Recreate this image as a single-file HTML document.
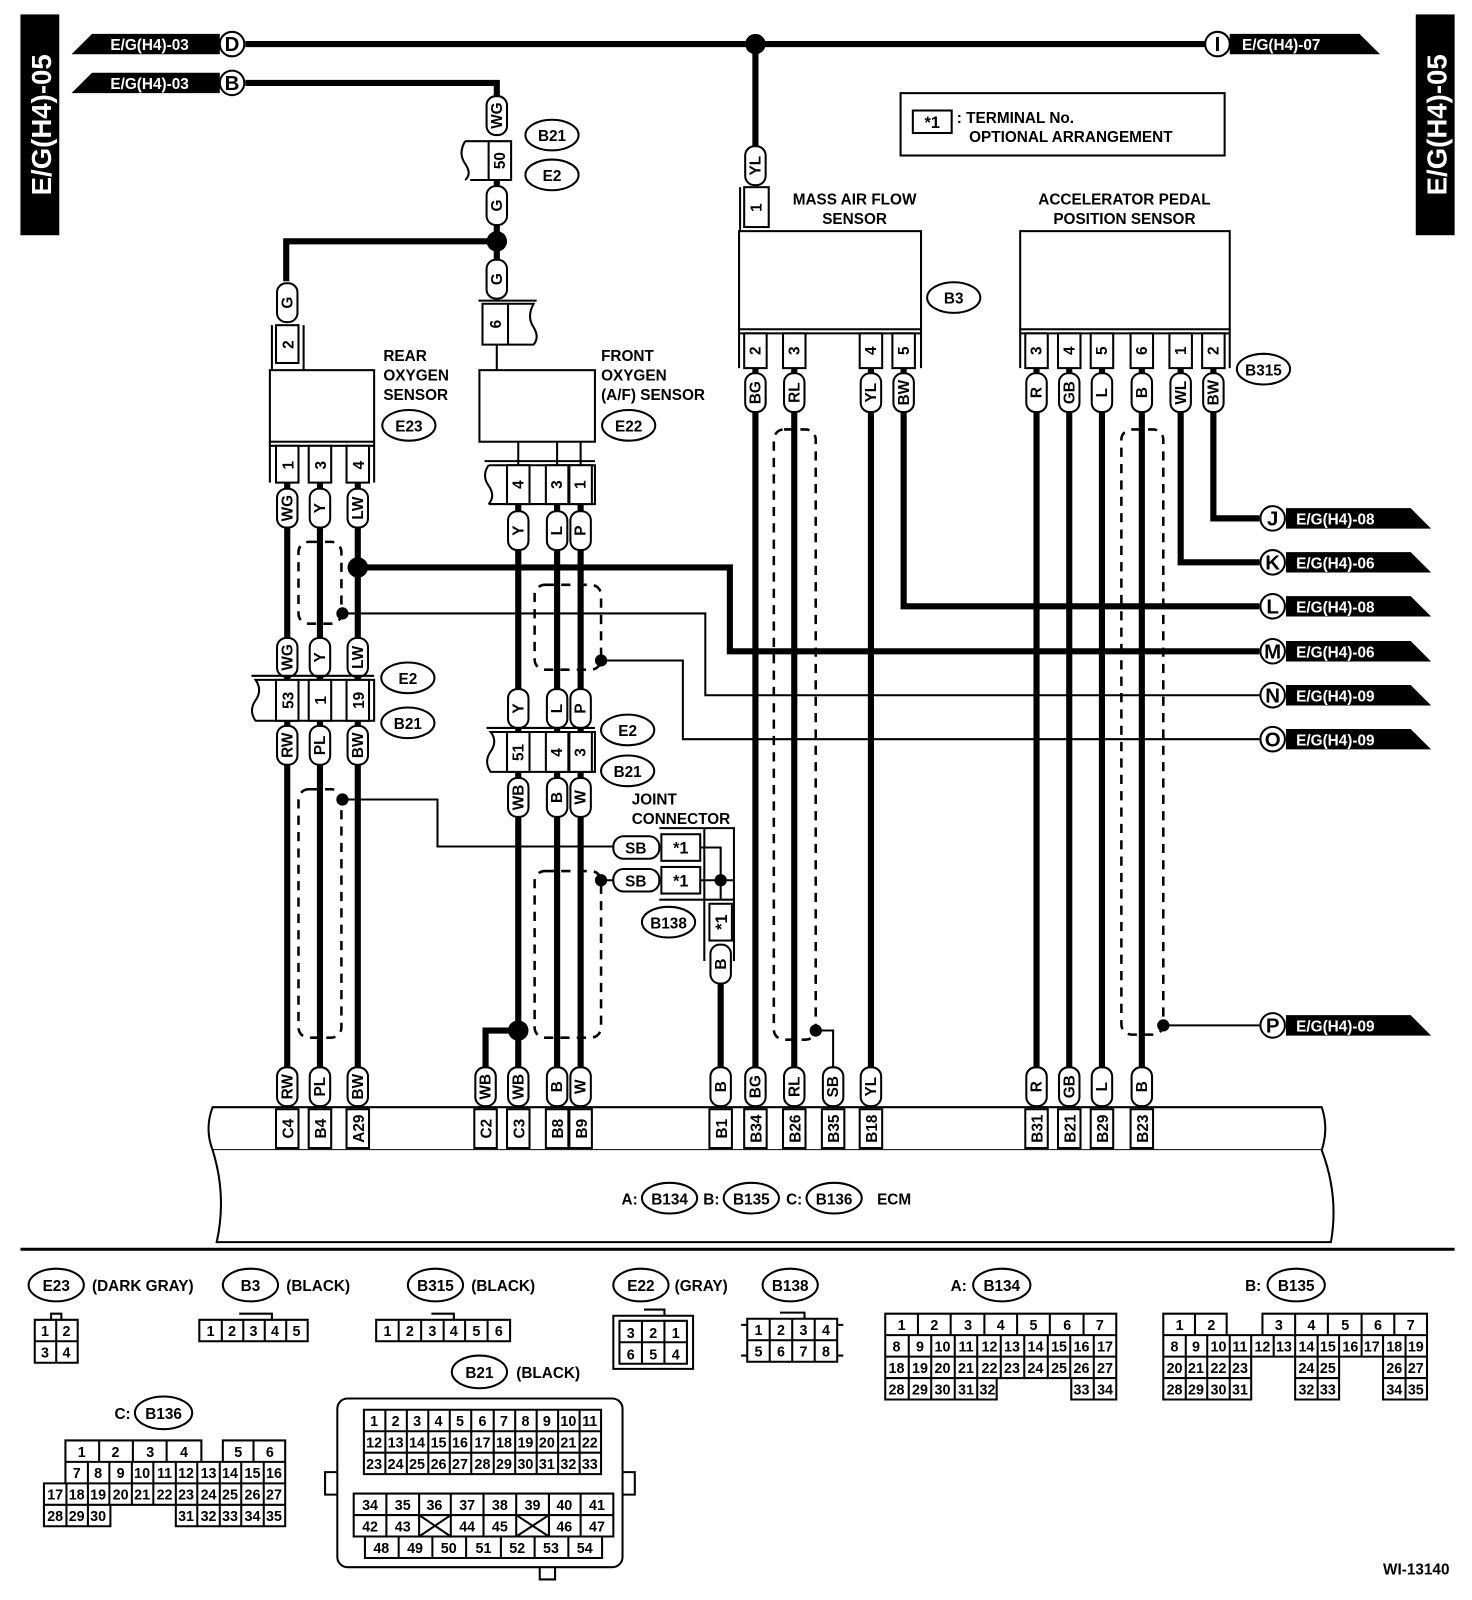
<!DOCTYPE html>
<html><head><meta charset="utf-8"><style>
html,body{margin:0;padding:0;background:#fff}
svg{display:block}
text{font-family:"Liberation Sans",sans-serif;font-weight:bold;fill:#000}
.s{font-size:15px}.m{font-size:16px}.n{font-size:14px;font-weight:normal}
.w{fill:#fff}
.pl{fill:#fff;stroke:#000;stroke-width:2}
.bx{fill:#fff;stroke:#000;stroke-width:2}
.t{stroke:#000;stroke-width:6;fill:none}
.f{stroke:#000;stroke-width:2;fill:none}
.d{stroke:#000;stroke-width:2.5;fill:none;stroke-dasharray:9 7}
</style></head><body>
<svg width="1472" height="1600" viewBox="0 0 1440 1565" xmlns="http://www.w3.org/2000/svg">
<defs>
<g id="pill"><rect x="-10" y="-19" width="20" height="38" rx="9" class="pl"/></g>
</defs>
<!-- side labels -->
<rect x="20" y="14" width="38" height="216" fill="#000"/>
<text class="w" style="font-size:27px" transform="translate(50,122) rotate(-90)" text-anchor="middle">E/G(H4)-05</text>
<rect x="1385" y="14" width="38" height="216" fill="#000"/>
<text class="w" style="font-size:27px" transform="translate(1415,122) rotate(-90)" text-anchor="middle">E/G(H4)-05</text>

<!-- top wires -->
<path class="t" d="M240,43 H1180 M240,81 H486 V95 M739,43 V145"/>
<circle cx="739" cy="43" r="10"/>
<polygon points="70,53 90,33 215,33 215,53" fill="#000"/>
<text class="w s" x="108" y="49">E/G(H4)-03</text>
<polygon points="70,91 90,71 215,71 215,91" fill="#000"/>
<text class="w s" x="108" y="87">E/G(H4)-03</text>
<circle cx="227" cy="43" r="12" class="bx" stroke-width="3"/><text x="227" y="50" text-anchor="middle" style="font-size:20px">D</text>
<circle cx="227" cy="81" r="12" class="bx" stroke-width="3"/><text x="227" y="88" text-anchor="middle" style="font-size:20px">B</text>
<polygon points="1203,33 1330,33 1350,53 1203,53" fill="#000"/>
<text class="w s" x="1215" y="49">E/G(H4)-07</text>
<circle cx="1191" cy="43" r="12" class="bx" stroke-width="3"/><text x="1191" y="50" text-anchor="middle" style="font-size:20px">I</text>

<!-- legend -->
<rect x="881" y="91" width="317" height="61" class="bx"/>
<rect x="893" y="108" width="38" height="22" class="bx"/>
<text class="m" x="912" y="125" text-anchor="middle">*1</text>
<text class="s" x="936" y="120">: TERMINAL No.</text>
<text class="s" x="948" y="139">OPTIONAL ARRANGEMENT</text>

<!-- B21/E2 top connector -->
<use href="#pill" x="486" y="113"/><text class="s" transform="translate(491,113) rotate(-90)" text-anchor="middle">WG</text>
<path class="f" d="M455,138 H500 V176 H460 M478,138 V176"/>
<path class="f" d="M455,138 Q448,150 455,160 Q462,170 455,176"/>
<text class="s" transform="translate(494,157) rotate(-90)" text-anchor="middle">50</text>
<ellipse cx="540" cy="132" rx="26" ry="15" class="bx"/><text class="s" x="540" y="138" text-anchor="middle">B21</text>
<ellipse cx="540" cy="171" rx="26" ry="15" class="bx"/><text class="s" x="540" y="177" text-anchor="middle">E2</text>
<path class="t" d="M486,176 V275 M486,236 H280 V275"/>
<use href="#pill" x="486" y="201"/><text class="s" transform="translate(491,201) rotate(-90)" text-anchor="middle">G</text>
<circle cx="486" cy="236" r="10"/>
<use href="#pill" x="486" y="273"/><text class="s" transform="translate(491,273) rotate(-90)" text-anchor="middle">G</text>
<use href="#pill" x="281" y="296"/><text class="s" transform="translate(286,296) rotate(-90)" text-anchor="middle">G</text>
<!-- rear conn 2 -->
<rect x="270" y="318" width="22" height="37" class="bx"/><path class="f" d="M266,318 V362 M297,318 V362"/>
<text class="s" transform="translate(287,337) rotate(-90)" text-anchor="middle">2</text>
<!-- front conn 6 -->
<path class="f" d="M472,297 H522 Q515,310 522,320 Q528,330 522,337 H472 Z M497,297 V337"/>
<path class="f" d="M468,294 H525"/>
<text class="s" transform="translate(490,317) rotate(-90)" text-anchor="middle">6</text>
<path class="f" d="M486,337 V362"/>
<!-- sensor boxes -->
<rect x="264" y="362" width="102" height="70" class="bx"/>
<rect x="469" y="362" width="113" height="70" class="bx"/>
<text class="s" x="375" y="353">REAR</text><text class="s" x="375" y="372">OXYGEN</text><text class="s" x="375" y="391">SENSOR</text>
<ellipse cx="400" cy="416" rx="26" ry="15" class="bx"/><text class="s" x="400" y="422" text-anchor="middle">E23</text>
<text class="s" x="588" y="353">FRONT</text><text class="s" x="588" y="372">OXYGEN</text><text class="s" x="588" y="391">(A/F) SENSOR</text>
<ellipse cx="615" cy="416" rx="26" ry="15" class="bx"/><text class="s" x="615" y="422" text-anchor="middle">E22</text>
<!-- rear pins -->
<path class="f" d="M264,432 V472 M366,432 V472 M264,436 H366"/>
<rect x="270" y="436" width="22" height="36" class="bx"/><rect x="302" y="436" width="22" height="36" class="bx"/><rect x="339" y="436" width="22" height="36" class="bx"/>
<text class="s" transform="translate(287,455) rotate(-90)" text-anchor="middle">1</text>
<text class="s" transform="translate(319,455) rotate(-90)" text-anchor="middle">3</text>
<text class="s" transform="translate(356,455) rotate(-90)" text-anchor="middle">4</text>
<!-- front pins -->
<path class="f" d="M507,432 V455 M545,432 V455 M568,432 V455"/>
<path class="f" d="M478,455 H582 V493 H478 M478,455 Q471,465 478,475 Q485,485 478,493 M474,451 H582"/>
<rect x="496" y="455" width="22" height="38" class="bx"/><rect x="534" y="455" width="22" height="38" class="bx"/><rect x="557" y="455" width="22" height="38" class="bx"/>
<text class="s" transform="translate(512,474) rotate(-90)" text-anchor="middle">4</text>
<text class="s" transform="translate(550,474) rotate(-90)" text-anchor="middle">3</text>
<text class="s" transform="translate(573,474) rotate(-90)" text-anchor="middle">1</text>

<!-- MAF -->
<use href="#pill" x="739" y="162"/><text class="s" transform="translate(744,162) rotate(-90)" text-anchor="middle">YL</text>
<rect x="728" y="183" width="24" height="39" class="bx"/><path class="f" d="M724,183 V226"/>
<text class="s" transform="translate(745,203) rotate(-90)" text-anchor="middle">1</text>
<rect x="723" y="226" width="178" height="96" class="bx"/>
<text class="s" x="836" y="200" text-anchor="middle">MASS AIR FLOW</text><text class="s" x="836" y="219" text-anchor="middle">SENSOR</text>
<ellipse cx="933" cy="291" rx="26" ry="15" class="bx"/><text class="s" x="933" y="297" text-anchor="middle">B3</text>
<path class="f" d="M723,322 V360 M901,322 V360 M723,326 H901"/>
<rect x="728" y="326" width="22" height="34" class="bx"/><rect x="766" y="326" width="22" height="34" class="bx"/><rect x="841" y="326" width="22" height="34" class="bx"/><rect x="873" y="326" width="22" height="34" class="bx"/>
<text class="s" transform="translate(744,343) rotate(-90)" text-anchor="middle">2</text>
<text class="s" transform="translate(782,343) rotate(-90)" text-anchor="middle">3</text>
<text class="s" transform="translate(857,343) rotate(-90)" text-anchor="middle">4</text>
<text class="s" transform="translate(889,343) rotate(-90)" text-anchor="middle">5</text>
<!-- APP -->
<rect x="998" y="226" width="205" height="96" class="bx"/>
<text class="s" x="1100" y="200" text-anchor="middle">ACCELERATOR PEDAL</text><text class="s" x="1100" y="219" text-anchor="middle">POSITION SENSOR</text>
<ellipse cx="1236" cy="361" rx="26" ry="15" class="bx"/><text class="s" x="1236" y="367" text-anchor="middle">B315</text>
<path class="f" d="M998,322 V360 M1203,322 V360 M998,326 H1203"/>
<rect x="1003" y="326" width="22" height="34" class="bx"/><rect x="1035" y="326" width="22" height="34" class="bx"/><rect x="1067" y="326" width="22" height="34" class="bx"/><rect x="1106" y="326" width="22" height="34" class="bx"/><rect x="1144" y="326" width="22" height="34" class="bx"/><rect x="1176" y="326" width="22" height="34" class="bx"/>
<text class="s" transform="translate(1019,343) rotate(-90)" text-anchor="middle">3</text>
<text class="s" transform="translate(1051,343) rotate(-90)" text-anchor="middle">4</text>
<text class="s" transform="translate(1083,343) rotate(-90)" text-anchor="middle">5</text>
<text class="s" transform="translate(1122,343) rotate(-90)" text-anchor="middle">6</text>
<text class="s" transform="translate(1160,343) rotate(-90)" text-anchor="middle">1</text>
<text class="s" transform="translate(1192,343) rotate(-90)" text-anchor="middle">2</text>

<!-- vertical wires -->
<path class="t" d="M281,472 V1045 M313,472 V1045 M350,472 V1045 M507,493 V1045 M545,493 V1045 M568,493 V1045 M739,360 V1045 M777,360 V1045 M852,360 V1045 M1014,360 V1045 M1046,360 V1045 M1078,360 V1045 M1117,360 V1045 M507,1008 H475 V1045 M705,940 V1045"/>
<path class="t" d="M1187,360 V507 H1232 M1155,360 V550 H1232 M884,360 V593 H1232 M350,555 H714 V637 H1232"/>
<path class="f" d="M335,600 H690 V680 H1232 M588,646 H668 V723 H1232 M1138,1003 H1232 M798,1008 H815 V1045 M335,782 H428 V828 H600 M588,861 H600"/>
<circle cx="350" cy="555" r="10"/><circle cx="507" cy="1008" r="10"/>
<circle cx="335" cy="600" r="6"/><circle cx="588" cy="646" r="6"/><circle cx="335" cy="782" r="6"/><circle cx="588" cy="861" r="6"/><circle cx="798" cy="1008" r="6"/><circle cx="1138" cy="1003" r="6"/>
<!-- shields -->
<rect x="292" y="530" width="42" height="80" rx="10" class="d"/>
<rect x="292" y="772" width="42" height="243" rx="10" class="d"/>
<rect x="523" y="572" width="65" height="83" rx="10" class="d"/>
<rect x="523" y="852" width="65" height="163" rx="10" class="d"/>
<rect x="757" y="420" width="41" height="597" rx="10" class="d"/>
<rect x="1097" y="420" width="41" height="592" rx="10" class="d"/>

<!-- pills upper -->
<use href="#pill" x="281" y="497"/><text class="s" transform="translate(286,497) rotate(-90)" text-anchor="middle">WG</text>
<use href="#pill" x="313" y="497"/><text class="s" transform="translate(318,497) rotate(-90)" text-anchor="middle">Y</text>
<use href="#pill" x="350" y="497"/><text class="s" transform="translate(355,497) rotate(-90)" text-anchor="middle">LW</text>
<use href="#pill" x="507" y="519"/><text class="s" transform="translate(512,519) rotate(-90)" text-anchor="middle">Y</text>
<use href="#pill" x="545" y="519"/><text class="s" transform="translate(550,519) rotate(-90)" text-anchor="middle">L</text>
<use href="#pill" x="568" y="519"/><text class="s" transform="translate(573,519) rotate(-90)" text-anchor="middle">P</text>
<use href="#pill" x="739" y="384"/><text class="s" transform="translate(744,384) rotate(-90)" text-anchor="middle">BG</text>
<use href="#pill" x="777" y="384"/><text class="s" transform="translate(782,384) rotate(-90)" text-anchor="middle">RL</text>
<use href="#pill" x="852" y="384"/><text class="s" transform="translate(857,384) rotate(-90)" text-anchor="middle">YL</text>
<use href="#pill" x="884" y="384"/><text class="s" transform="translate(889,384) rotate(-90)" text-anchor="middle">BW</text>
<use href="#pill" x="1014" y="384"/><text class="s" transform="translate(1019,384) rotate(-90)" text-anchor="middle">R</text>
<use href="#pill" x="1046" y="384"/><text class="s" transform="translate(1051,384) rotate(-90)" text-anchor="middle">GB</text>
<use href="#pill" x="1078" y="384"/><text class="s" transform="translate(1083,384) rotate(-90)" text-anchor="middle">L</text>
<use href="#pill" x="1117" y="384"/><text class="s" transform="translate(1122,384) rotate(-90)" text-anchor="middle">B</text>
<use href="#pill" x="1155" y="384"/><text class="s" transform="translate(1160,384) rotate(-90)" text-anchor="middle">WL</text>
<use href="#pill" x="1187" y="384"/><text class="s" transform="translate(1192,384) rotate(-90)" text-anchor="middle">BW</text>

<!-- rear E2/B21 connector -->
<use href="#pill" x="281" y="643"/><text class="s" transform="translate(286,643) rotate(-90)" text-anchor="middle">WG</text>
<use href="#pill" x="313" y="643"/><text class="s" transform="translate(318,643) rotate(-90)" text-anchor="middle">Y</text>
<use href="#pill" x="350" y="643"/><text class="s" transform="translate(355,643) rotate(-90)" text-anchor="middle">LW</text>
<path class="bx" d="M250,665 H366 V705 H250 Q243,695 250,685 Q257,675 250,665 Z"/>
<path class="f" d="M246,661 H366"/>
<rect x="270" y="665" width="22" height="40" class="bx"/><rect x="302" y="665" width="22" height="40" class="bx"/><rect x="339" y="665" width="22" height="40" class="bx"/>
<text class="s" transform="translate(287,685) rotate(-90)" text-anchor="middle">53</text>
<text class="s" transform="translate(319,685) rotate(-90)" text-anchor="middle">1</text>
<text class="s" transform="translate(356,685) rotate(-90)" text-anchor="middle">19</text>
<ellipse cx="399" cy="663" rx="26" ry="15" class="bx"/><text class="s" x="399" y="669" text-anchor="middle">E2</text>
<ellipse cx="399" cy="707" rx="26" ry="15" class="bx"/><text class="s" x="399" y="713" text-anchor="middle">B21</text>
<use href="#pill" x="281" y="729"/><text class="s" transform="translate(286,729) rotate(-90)" text-anchor="middle">RW</text>
<use href="#pill" x="313" y="729"/><text class="s" transform="translate(318,729) rotate(-90)" text-anchor="middle">PL</text>
<use href="#pill" x="350" y="729"/><text class="s" transform="translate(355,729) rotate(-90)" text-anchor="middle">BW</text>
<!-- front E2/B21 connector -->
<use href="#pill" x="507" y="693"/><text class="s" transform="translate(512,693) rotate(-90)" text-anchor="middle">Y</text>
<use href="#pill" x="545" y="693"/><text class="s" transform="translate(550,693) rotate(-90)" text-anchor="middle">L</text>
<use href="#pill" x="568" y="693"/><text class="s" transform="translate(573,693) rotate(-90)" text-anchor="middle">P</text>
<path class="bx" d="M480,716 H582 V755 H480 Q473,745 480,735 Q487,725 480,716 Z"/>
<path class="f" d="M476,712 H582"/>
<rect x="496" y="716" width="22" height="39" class="bx"/><rect x="534" y="716" width="22" height="39" class="bx"/><rect x="557" y="716" width="22" height="39" class="bx"/>
<text class="s" transform="translate(512,736) rotate(-90)" text-anchor="middle">51</text>
<text class="s" transform="translate(550,736) rotate(-90)" text-anchor="middle">4</text>
<text class="s" transform="translate(573,736) rotate(-90)" text-anchor="middle">3</text>
<ellipse cx="614" cy="714" rx="26" ry="15" class="bx"/><text class="s" x="614" y="720" text-anchor="middle">E2</text>
<ellipse cx="614" cy="754" rx="26" ry="15" class="bx"/><text class="s" x="614" y="760" text-anchor="middle">B21</text>
<use href="#pill" x="507" y="780"/><text class="s" transform="translate(512,780) rotate(-90)" text-anchor="middle">WB</text>
<use href="#pill" x="545" y="780"/><text class="s" transform="translate(550,780) rotate(-90)" text-anchor="middle">B</text>
<use href="#pill" x="568" y="780"/><text class="s" transform="translate(573,780) rotate(-90)" text-anchor="middle">W</text>

<!-- joint connector -->
<text class="s" x="618" y="787">JOINT</text><text class="s" x="618" y="806">CONNECTOR</text>
<rect x="600" y="818" width="45" height="22" rx="10" class="pl"/><text class="s" x="622" y="835" text-anchor="middle">SB</text>
<rect x="600" y="850" width="45" height="22" rx="10" class="pl"/><text class="s" x="622" y="867" text-anchor="middle">SB</text>
<rect x="647" y="816" width="38" height="26" class="bx"/><text class="m" x="666" y="835" text-anchor="middle">*1</text>
<rect x="647" y="848" width="38" height="26" class="bx"/><text class="m" x="666" y="867" text-anchor="middle">*1</text>
<path class="f" d="M645,810 H718 V940 M645,880 H718 M689,810 V940 M685,829 H705 V880 M685,861 H718"/>
<circle cx="705" cy="861" r="6"/>
<rect x="694" y="884" width="22" height="36" class="bx"/>
<text class="m" transform="translate(711,902) rotate(-90)" text-anchor="middle">*1</text>
<ellipse cx="654" cy="902" rx="26" ry="15" class="bx"/><text class="s" x="654" y="908" text-anchor="middle">B138</text>
<use href="#pill" x="705" y="943"/><text class="s" transform="translate(710,943) rotate(-90)" text-anchor="middle">B</text>

<!-- right tags -->
<g class="s">
<polygon points="1258,497 1380,497 1400,517 1258,517" fill="#000"/><text class="w" x="1268" y="513">E/G(H4)-08</text>
<circle cx="1245" cy="507" r="12" class="bx" stroke-width="3"/><text x="1245" y="514" text-anchor="middle" style="font-size:20px">J</text>
<polygon points="1258,540 1380,540 1400,560 1258,560" fill="#000"/><text class="w" x="1268" y="556">E/G(H4)-06</text>
<circle cx="1245" cy="550" r="12" class="bx" stroke-width="3"/><text x="1245" y="557" text-anchor="middle" style="font-size:20px">K</text>
<polygon points="1258,583 1380,583 1400,603 1258,603" fill="#000"/><text class="w" x="1268" y="599">E/G(H4)-08</text>
<circle cx="1245" cy="593" r="12" class="bx" stroke-width="3"/><text x="1245" y="600" text-anchor="middle" style="font-size:20px">L</text>
<polygon points="1258,627 1380,627 1400,647 1258,647" fill="#000"/><text class="w" x="1268" y="643">E/G(H4)-06</text>
<circle cx="1245" cy="637" r="12" class="bx" stroke-width="3"/><text x="1245" y="644" text-anchor="middle" style="font-size:20px">M</text>
<polygon points="1258,670 1380,670 1400,690 1258,690" fill="#000"/><text class="w" x="1268" y="686">E/G(H4)-09</text>
<circle cx="1245" cy="680" r="12" class="bx" stroke-width="3"/><text x="1245" y="687" text-anchor="middle" style="font-size:20px">N</text>
<polygon points="1258,713 1380,713 1400,733 1258,733" fill="#000"/><text class="w" x="1268" y="729">E/G(H4)-09</text>
<circle cx="1245" cy="723" r="12" class="bx" stroke-width="3"/><text x="1245" y="730" text-anchor="middle" style="font-size:20px">O</text>
<polygon points="1258,993 1380,993 1400,1013 1258,1013" fill="#000"/><text class="w" x="1268" y="1009">E/G(H4)-09</text>
<circle cx="1245" cy="1003" r="12" class="bx" stroke-width="3"/><text x="1245" y="1010" text-anchor="middle" style="font-size:20px">P</text>
</g>

<!-- ECM -->
<path class="bx" d="M208,1083 H1293 Q1300,1104 1293,1125 H208 Q200,1104 208,1083 Z"/>
<path class="bx" d="M208,1125 Q222,1170 212,1215 H1302 Q1310,1170 1293,1125"/>
<text class="s" x="608" y="1178">A:</text>
<ellipse cx="655" cy="1172" rx="27" ry="15" class="bx"/><text class="s" x="655" y="1178" text-anchor="middle">B134</text>
<text class="s" x="688" y="1178">B:</text>
<ellipse cx="735" cy="1172" rx="27" ry="15" class="bx"/><text class="s" x="735" y="1178" text-anchor="middle">B135</text>
<text class="s" x="769" y="1178">C:</text>
<ellipse cx="816" cy="1172" rx="27" ry="15" class="bx"/><text class="s" x="816" y="1178" text-anchor="middle">B136</text>
<text class="s" x="858" y="1178">ECM</text>
<g>
<rect x="270" y="1085" width="22" height="38" class="bx"/><text class="s" transform="translate(287,1104) rotate(-90)" text-anchor="middle">C4</text>
<rect x="302" y="1085" width="22" height="38" class="bx"/><text class="s" transform="translate(319,1104) rotate(-90)" text-anchor="middle">B4</text>
<rect x="339" y="1085" width="22" height="38" class="bx"/><text class="s" transform="translate(356,1104) rotate(-90)" text-anchor="middle">A29</text>
<rect x="464" y="1085" width="22" height="38" class="bx"/><text class="s" transform="translate(481,1104) rotate(-90)" text-anchor="middle">C2</text>
<rect x="496" y="1085" width="22" height="38" class="bx"/><text class="s" transform="translate(513,1104) rotate(-90)" text-anchor="middle">C3</text>
<rect x="534" y="1085" width="22" height="38" class="bx"/><text class="s" transform="translate(551,1104) rotate(-90)" text-anchor="middle">B8</text>
<rect x="557" y="1085" width="22" height="38" class="bx"/><text class="s" transform="translate(574,1104) rotate(-90)" text-anchor="middle">B9</text>
<rect x="694" y="1085" width="22" height="38" class="bx"/><text class="s" transform="translate(711,1104) rotate(-90)" text-anchor="middle">B1</text>
<rect x="728" y="1085" width="22" height="38" class="bx"/><text class="s" transform="translate(745,1104) rotate(-90)" text-anchor="middle">B34</text>
<rect x="766" y="1085" width="22" height="38" class="bx"/><text class="s" transform="translate(783,1104) rotate(-90)" text-anchor="middle">B26</text>
<rect x="804" y="1085" width="22" height="38" class="bx"/><text class="s" transform="translate(821,1104) rotate(-90)" text-anchor="middle">B35</text>
<rect x="841" y="1085" width="22" height="38" class="bx"/><text class="s" transform="translate(858,1104) rotate(-90)" text-anchor="middle">B18</text>
<rect x="1003" y="1085" width="22" height="38" class="bx"/><text class="s" transform="translate(1020,1104) rotate(-90)" text-anchor="middle">B31</text>
<rect x="1035" y="1085" width="22" height="38" class="bx"/><text class="s" transform="translate(1052,1104) rotate(-90)" text-anchor="middle">B21</text>
<rect x="1067" y="1085" width="22" height="38" class="bx"/><text class="s" transform="translate(1084,1104) rotate(-90)" text-anchor="middle">B29</text>
<rect x="1106" y="1085" width="22" height="38" class="bx"/><text class="s" transform="translate(1123,1104) rotate(-90)" text-anchor="middle">B23</text>
</g>
<!-- ECM pills -->
<use href="#pill" x="281" y="1063"/><text class="s" transform="translate(286,1063) rotate(-90)" text-anchor="middle">RW</text>
<use href="#pill" x="313" y="1063"/><text class="s" transform="translate(318,1063) rotate(-90)" text-anchor="middle">PL</text>
<use href="#pill" x="350" y="1063"/><text class="s" transform="translate(355,1063) rotate(-90)" text-anchor="middle">BW</text>
<use href="#pill" x="475" y="1063"/><text class="s" transform="translate(480,1063) rotate(-90)" text-anchor="middle">WB</text>
<use href="#pill" x="507" y="1063"/><text class="s" transform="translate(512,1063) rotate(-90)" text-anchor="middle">WB</text>
<use href="#pill" x="545" y="1063"/><text class="s" transform="translate(550,1063) rotate(-90)" text-anchor="middle">B</text>
<use href="#pill" x="568" y="1063"/><text class="s" transform="translate(573,1063) rotate(-90)" text-anchor="middle">W</text>
<use href="#pill" x="705" y="1063"/><text class="s" transform="translate(710,1063) rotate(-90)" text-anchor="middle">B</text>
<use href="#pill" x="739" y="1063"/><text class="s" transform="translate(744,1063) rotate(-90)" text-anchor="middle">BG</text>
<use href="#pill" x="777" y="1063"/><text class="s" transform="translate(782,1063) rotate(-90)" text-anchor="middle">RL</text>
<use href="#pill" x="815" y="1063"/><text class="s" transform="translate(820,1063) rotate(-90)" text-anchor="middle">SB</text>
<use href="#pill" x="852" y="1063"/><text class="s" transform="translate(857,1063) rotate(-90)" text-anchor="middle">YL</text>
<use href="#pill" x="1014" y="1063"/><text class="s" transform="translate(1019,1063) rotate(-90)" text-anchor="middle">R</text>
<use href="#pill" x="1046" y="1063"/><text class="s" transform="translate(1051,1063) rotate(-90)" text-anchor="middle">GB</text>
<use href="#pill" x="1078" y="1063"/><text class="s" transform="translate(1083,1063) rotate(-90)" text-anchor="middle">L</text>
<use href="#pill" x="1117" y="1063"/><text class="s" transform="translate(1122,1063) rotate(-90)" text-anchor="middle">B</text>

<!-- separator -->
<path d="M20,1222 H1423" stroke="#000" stroke-width="3"/>

<!-- bottom connectors -->
<ellipse cx="55" cy="1257" rx="27" ry="16" class="bx"/><text class="s" x="55" y="1263" text-anchor="middle">E23</text>
<text class="s" x="90" y="1263">(DARK GRAY)</text>
<path class="f" d="M34,1291 H76 V1333 H34 Z M55,1291 V1333 M34,1312 H76 M50,1285 H60 V1291 H50 Z"/>
<g class="n"><text x="44" y="1307" text-anchor="middle">1</text><text x="65" y="1307" text-anchor="middle">2</text><text x="44" y="1328" text-anchor="middle">3</text><text x="65" y="1328" text-anchor="middle">4</text></g>

<ellipse cx="245" cy="1257" rx="27" ry="16" class="bx"/><text class="s" x="245" y="1263" text-anchor="middle">B3</text>
<text class="s" x="280" y="1263">(BLACK)</text>
<path class="f" d="M195,1291 H301 V1312 H195 Z M217,1291 V1312 M238,1291 V1312 M259,1291 V1312 M280,1291 V1312 M234,1285 H266 V1291"/>
<g class="n"><text x="206" y="1307" text-anchor="middle">1</text><text x="227" y="1307" text-anchor="middle">2</text><text x="248" y="1307" text-anchor="middle">3</text><text x="269" y="1307" text-anchor="middle">4</text><text x="290" y="1307" text-anchor="middle">5</text></g>

<ellipse cx="426" cy="1257" rx="27" ry="16" class="bx"/><text class="s" x="426" y="1263" text-anchor="middle">B315</text>
<text class="s" x="461" y="1263">(BLACK)</text>
<path class="f" d="M368,1291 H499 V1312 H368 Z M390,1291 V1312 M412,1291 V1312 M434,1291 V1312 M455,1291 V1312 M477,1291 V1312 M422,1285 H444 V1291"/>
<g class="n"><text x="379" y="1307" text-anchor="middle">1</text><text x="401" y="1307" text-anchor="middle">2</text><text x="423" y="1307" text-anchor="middle">3</text><text x="444" y="1307" text-anchor="middle">4</text><text x="466" y="1307" text-anchor="middle">5</text><text x="488" y="1307" text-anchor="middle">6</text></g>

<ellipse cx="627" cy="1257" rx="27" ry="16" class="bx"/><text class="s" x="627" y="1263" text-anchor="middle">E22</text>
<text class="s" x="660" y="1263">(GRAY)</text>
<path class="f" d="M600,1287 H678 V1339 H600 Z M606,1292 H672 V1334 H606 Z M628,1292 V1334 M650,1292 V1334 M606,1313 H672 M630,1281 H650 V1287"/>
<g class="n"><text x="617" y="1309" text-anchor="middle">3</text><text x="639" y="1309" text-anchor="middle">2</text><text x="661" y="1309" text-anchor="middle">1</text><text x="617" y="1330" text-anchor="middle">6</text><text x="639" y="1330" text-anchor="middle">5</text><text x="661" y="1330" text-anchor="middle">4</text></g>

<ellipse cx="773" cy="1257" rx="27" ry="16" class="bx"/><text class="s" x="773" y="1263" text-anchor="middle">B138</text>
<path class="f" d="M731,1290 H819 V1332 H731 Z M753,1290 V1332 M775,1290 V1332 M797,1290 V1332 M731,1311 H819 M763,1284 H787 V1290 M725,1296 H731 M725,1326 H731 M819,1296 H825 M819,1326 H825"/>
<g class="n"><text x="742" y="1306" text-anchor="middle">1</text><text x="764" y="1306" text-anchor="middle">2</text><text x="786" y="1306" text-anchor="middle">3</text><text x="808" y="1306" text-anchor="middle">4</text><text x="742" y="1327" text-anchor="middle">5</text><text x="764" y="1327" text-anchor="middle">6</text><text x="786" y="1327" text-anchor="middle">7</text><text x="808" y="1327" text-anchor="middle">8</text></g>

<!-- B134 -->
<text class="s" x="930" y="1263">A:</text>
<ellipse cx="980" cy="1257" rx="28" ry="16" class="bx"/><text class="s" x="980" y="1263" text-anchor="middle">B134</text>
<path class="f" d="M866,1285 H1092 V1369 H1048 V1348 H975 V1369 H866 Z M866,1306 H1092 M866,1327 H1092 M866,1348 H975 M1048,1348 H1092 M898,1285 V1306 M930,1285 V1306 M963,1285 V1306 M995,1285 V1306 M1027,1285 V1306 M1060,1285 V1306 M889,1306 V1369 M911,1306 V1369 M934,1306 V1369 M956,1306 V1369 M979,1306 V1348 M1002,1306 V1348 M1025,1306 V1348 M1047,1306 V1348 M1070,1306 V1369"/>
<g class="n" text-anchor="middle">
<text x="882" y="1301">1</text><text x="914" y="1301">2</text><text x="947" y="1301">3</text><text x="979" y="1301">4</text><text x="1011" y="1301">5</text><text x="1044" y="1301">6</text><text x="1076" y="1301">7</text>
<text x="877" y="1322">8</text><text x="900" y="1322">9</text><text x="922" y="1322">10</text><text x="945" y="1322">11</text><text x="968" y="1322">12</text><text x="990" y="1322">13</text><text x="1013" y="1322">14</text><text x="1036" y="1322">15</text><text x="1058" y="1322">16</text><text x="1081" y="1322">17</text>
<text x="877" y="1343">18</text><text x="900" y="1343">19</text><text x="922" y="1343">20</text><text x="945" y="1343">21</text><text x="968" y="1343">22</text><text x="990" y="1343">23</text><text x="1013" y="1343">24</text><text x="1036" y="1343">25</text><text x="1058" y="1343">26</text><text x="1081" y="1343">27</text>
<text x="877" y="1364">28</text><text x="900" y="1364">29</text><text x="922" y="1364">30</text><text x="945" y="1364">31</text><text x="966" y="1364">32</text><text x="1058" y="1364">33</text><text x="1081" y="1364">34</text>
</g>
<!-- B135 -->
<text class="s" x="1218" y="1263">B:</text>
<ellipse cx="1268" cy="1257" rx="28" ry="16" class="bx"/><text class="s" x="1268" y="1263" text-anchor="middle">B135</text>
<path class="f" d="M1138,1306 V1285 H1200 V1306 M1235,1306 V1285 H1396 V1369 H1353 V1327 H1310 V1369 H1267 V1327 H1224 V1369 H1138 V1306 H1396 M1138,1327 H1224 M1267,1327 H1310 M1353,1327 H1396 M1138,1348 H1224 M1267,1348 H1310 M1353,1348 H1396 M1169,1285 V1306 M1267,1285 V1306 M1299,1285 V1306 M1332,1285 V1306 M1364,1285 V1306 M1160,1306 V1369 M1181,1306 V1369 M1203,1306 V1369 M1224,1306 V1327 M1246,1306 V1327 M1267,1306 V1327 M1289,1306 V1369 M1310,1306 V1327 M1332,1306 V1327 M1353,1306 V1327 M1375,1306 V1369"/>
<g class="n" text-anchor="middle">
<text x="1154" y="1301">1</text><text x="1185" y="1301">2</text><text x="1251" y="1301">3</text><text x="1283" y="1301">4</text><text x="1316" y="1301">5</text><text x="1348" y="1301">6</text><text x="1380" y="1301">7</text>
<text x="1149" y="1322">8</text><text x="1170" y="1322">9</text><text x="1192" y="1322">10</text><text x="1213" y="1322">11</text><text x="1235" y="1322">12</text><text x="1256" y="1322">13</text><text x="1278" y="1322">14</text><text x="1299" y="1322">15</text><text x="1321" y="1322">16</text><text x="1342" y="1322">17</text><text x="1364" y="1322">18</text><text x="1385" y="1322">19</text>
<text x="1149" y="1343">20</text><text x="1170" y="1343">21</text><text x="1192" y="1343">22</text><text x="1213" y="1343">23</text><text x="1278" y="1343">24</text><text x="1299" y="1343">25</text><text x="1364" y="1343">26</text><text x="1385" y="1343">27</text>
<text x="1149" y="1364">28</text><text x="1170" y="1364">29</text><text x="1192" y="1364">30</text><text x="1213" y="1364">31</text><text x="1278" y="1364">32</text><text x="1299" y="1364">33</text><text x="1364" y="1364">34</text><text x="1385" y="1364">35</text>
</g>
<!-- B136 -->
<text class="s" x="112" y="1388">C:</text>
<ellipse cx="160" cy="1382" rx="28" ry="16" class="bx"/><text class="s" x="160" y="1388" text-anchor="middle">B136</text>
<path class="f" d="M64,1430 V1409 H197 V1430 M218,1430 V1409 H279 V1493 H172 V1472 H108 V1493 H43 V1451 H64 V1430 H279 M43,1451 H279 M43,1472 H108 M172,1472 H279 M97,1409 V1430 M130,1409 V1430 M163,1409 V1430 M248,1409 V1430 M86,1430 V1493 M107,1430 V1472 M129,1430 V1472 M150,1430 V1472 M172,1430 V1472 M193,1430 V1493 M215,1430 V1493 M236,1430 V1493 M258,1430 V1493 M65,1451 V1493"/>
<g class="n" text-anchor="middle">
<text x="80" y="1425">1</text><text x="113" y="1425">2</text><text x="147" y="1425">3</text><text x="180" y="1425">4</text><text x="233" y="1425">5</text><text x="264" y="1425">6</text>
<text x="75" y="1446">7</text><text x="96" y="1446">8</text><text x="118" y="1446">9</text><text x="139" y="1446">10</text><text x="161" y="1446">11</text><text x="182" y="1446">12</text><text x="204" y="1446">13</text><text x="225" y="1446">14</text><text x="247" y="1446">15</text><text x="268" y="1446">16</text>
<text x="54" y="1467">17</text><text x="75" y="1467">18</text><text x="96" y="1467">19</text><text x="118" y="1467">20</text><text x="139" y="1467">21</text><text x="161" y="1467">22</text><text x="182" y="1467">23</text><text x="204" y="1467">24</text><text x="225" y="1467">25</text><text x="247" y="1467">26</text><text x="268" y="1467">27</text>
<text x="54" y="1488">28</text><text x="75" y="1488">29</text><text x="96" y="1488">30</text><text x="182" y="1488">31</text><text x="204" y="1488">32</text><text x="225" y="1488">33</text><text x="247" y="1488">34</text><text x="268" y="1488">35</text>
</g>
<!-- B21 -->
<ellipse cx="469" cy="1342" rx="27" ry="16" class="bx"/><text class="s" x="469" y="1348" text-anchor="middle">B21</text>
<text class="s" x="505" y="1348">(BLACK)</text>
<rect x="330" y="1368" width="279" height="165" rx="10" class="bx"/>
<path class="f" d="M330,1440 H318 V1462 H330 M609,1440 H621 V1462 H609 M528,1533 V1545 H543 V1533"/>
<path class="f" d="M356,1379 H588 V1442 H356 Z M356,1400 H588 M356,1421 H588 M377,1379 V1442 M398,1379 V1442 M419,1379 V1442 M440,1379 V1442 M461,1379 V1442 M483,1379 V1442 M504,1379 V1442 M525,1379 V1442 M546,1379 V1442 M567,1379 V1442"/>
<path class="f" d="M346,1461 H600 V1503 H346 Z M378,1461 V1503 M410,1461 V1503 M441,1461 V1503 M473,1461 V1503 M505,1461 V1503 M537,1461 V1503 M568,1461 V1503 M346,1482 H600 M357,1503 V1524 H589 V1503 M390,1503 V1524 M423,1503 V1524 M456,1503 V1524 M490,1503 V1524 M523,1503 V1524 M556,1503 V1524 M410,1482 L441,1503 M441,1482 L410,1503 M505,1482 L537,1503 M537,1482 L505,1503"/>
<g class="n" text-anchor="middle">
<text x="366" y="1395">1</text><text x="387" y="1395">2</text><text x="408" y="1395">3</text><text x="429" y="1395">4</text><text x="450" y="1395">5</text><text x="472" y="1395">6</text><text x="493" y="1395">7</text><text x="514" y="1395">8</text><text x="535" y="1395">9</text><text x="556" y="1395">10</text><text x="577" y="1395">11</text>
<text x="366" y="1416">12</text><text x="387" y="1416">13</text><text x="408" y="1416">14</text><text x="429" y="1416">15</text><text x="450" y="1416">16</text><text x="472" y="1416">17</text><text x="493" y="1416">18</text><text x="514" y="1416">19</text><text x="535" y="1416">20</text><text x="556" y="1416">21</text><text x="577" y="1416">22</text>
<text x="366" y="1437">23</text><text x="387" y="1437">24</text><text x="408" y="1437">25</text><text x="429" y="1437">26</text><text x="450" y="1437">27</text><text x="472" y="1437">28</text><text x="493" y="1437">29</text><text x="514" y="1437">30</text><text x="535" y="1437">31</text><text x="556" y="1437">32</text><text x="577" y="1437">33</text>
<text x="362" y="1477">34</text><text x="394" y="1477">35</text><text x="425" y="1477">36</text><text x="457" y="1477">37</text><text x="489" y="1477">38</text><text x="521" y="1477">39</text><text x="552" y="1477">40</text><text x="584" y="1477">41</text>
<text x="362" y="1498">42</text><text x="394" y="1498">43</text><text x="457" y="1498">44</text><text x="489" y="1498">45</text><text x="552" y="1498">46</text><text x="584" y="1498">47</text>
<text x="373" y="1519">48</text><text x="406" y="1519">49</text><text x="439" y="1519">50</text><text x="473" y="1519">51</text><text x="506" y="1519">52</text><text x="539" y="1519">53</text><text x="572" y="1519">54</text>
</g>
<text class="s" x="1418" y="1540" text-anchor="end">WI-13140</text>
</svg>
</body></html>
